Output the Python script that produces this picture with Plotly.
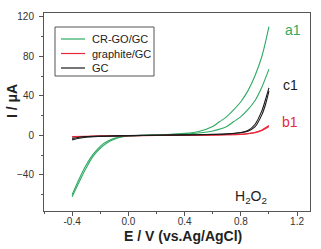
import plotly.graph_objects as go

# ---- data ----
green_fwd_E = [-0.40, -0.35, -0.30, -0.25, -0.20, -0.15, -0.10, -0.05, 0.00, 0.10, 0.20, 0.30, 0.40, 0.50, 0.60, 0.70, 0.75, 0.80, 0.85, 0.90, 0.95, 1.00]
green_fwd_I = [-60, -44, -30, -19, -11, -6, -3, -1.3, -0.4, 0.2, 0.5, 0.9, 1.5, 2.5, 4.5, 9, 14, 19, 26, 35, 49, 67]
green_rev_E = [1.00, 0.95, 0.90, 0.85, 0.80, 0.75, 0.70, 0.65, 0.60, 0.50, 0.40, 0.30, 0.20, 0.10, 0.00, -0.05, -0.10, -0.15, -0.20, -0.25, -0.30, -0.35, -0.40]
green_rev_I = [110, 80, 60, 45, 34, 26, 19, 14, 9, 4, 2, 1, 0.5, 0.1, -0.6, -1.7, -3.8, -7.5, -13, -21, -33, -47, -62]

red_fwd_E = [-0.40, -0.30, -0.20, 0.00, 0.20, 0.40, 0.60, 0.70, 0.80, 0.85, 0.90, 0.95, 1.00]
red_fwd_I = [-1.2, -0.8, -0.5, -0.2, 0.0, 0.2, 0.4, 0.6, 1.0, 1.6, 2.8, 5.0, 9.0]
red_rev_E = [1.00, 0.95, 0.90, 0.85, 0.80, 0.70, 0.60, 0.40, 0.20, 0.00, -0.20, -0.30, -0.40]
red_rev_I = [10.0, 5.5, 3.0, 1.8, 1.1, 0.6, 0.3, 0.1, -0.1, -0.4, -0.8, -1.1, -1.6]

black_fwd_E = [-0.40, -0.35, -0.30, -0.20, -0.10, 0.00, 0.20, 0.40, 0.60, 0.70, 0.80, 0.85, 0.90, 0.95, 0.975, 1.00]
black_fwd_I = [-3.0, -1.8, -1.2, -0.7, -0.4, -0.2, 0.2, 0.5, 0.9, 1.4, 2.6, 4.2, 8.5, 21, 31, 45]
black_rev_E = [1.00, 0.975, 0.95, 0.90, 0.85, 0.80, 0.70, 0.60, 0.40, 0.20, 0.00, -0.10, -0.20, -0.30, -0.35, -0.40]
black_rev_I = [48, 36, 25, 11, 5, 3, 1.6, 1.0, 0.5, 0.1, -0.4, -0.7, -1.1, -1.8, -2.8, -4.5]

series_names = ["CR-GO/GC", "graphite/GC", "GC"]
series_colors = ["#2eaa62", "#e8283a", "#1a1a1a"]
curve_labels = ["a1", "b1", "c1"]

x_ticks = [-0.4, 0.0, 0.4, 0.8, 1.2]
y_ticks = [-40, 0, 40, 80, 120]

FONT = "Arial, Liberation Sans, sans-serif"

# plot area in pixels (for legend / title layout)
W, H = 321, 249
L, R, T, B = 44, 11, 13, 38
PW, PH = W - L - R, H - T - B


def px(xp):
    return (xp - L) / PW


def py(yp):
    return (H - B - yp) / PH


fig = go.Figure()
curves = [
    (green_fwd_E, green_fwd_I, green_rev_E, green_rev_I),
    (red_fwd_E, red_fwd_I, red_rev_E, red_rev_I),
    (black_fwd_E, black_fwd_I, black_rev_E, black_rev_I),
]
for (fe, fi, re_, ri), name, col in zip(curves, series_names, series_colors):
    fig.add_trace(go.Scatter(x=fe, y=fi, mode="lines", name=name, showlegend=False,
                             line=dict(color=col, width=1.1, shape="spline", smoothing=0.8)))
    fig.add_trace(go.Scatter(x=re_, y=ri, mode="lines", name=name, showlegend=False,
                             line=dict(color=col, width=1.1, shape="spline", smoothing=0.8)))

# legend drawn as layout shapes + text (box, sample lines, names)
fig.add_shape(type="rect", xref="paper", yref="paper",
              x0=px(55), x1=px(154), y0=py(76), y1=py(27),
              line=dict(color="#555", width=1), fillcolor="white", layer="above")
legend_rows = [39, 53.5, 68]
for yrow, name, col in zip(legend_rows, series_names, series_colors):
    fig.add_shape(type="line", xref="paper", yref="paper",
                  x0=px(61), x1=px(85), y0=py(yrow), y1=py(yrow),
                  line=dict(color=col, width=1.2), layer="above")
    fig.add_annotation(xref="paper", yref="paper", x=px(90), y=py(yrow),
                       xanchor="left", yanchor="middle", text=name, showarrow=False,
                       font=dict(size=11, color="#222", family=FONT))

label_pos = {"a1": (1.17, 107), "b1": (1.15, 14), "c1": (1.15, 51)}
for lab, col in zip(curve_labels, series_colors):
    x, y = label_pos[lab]
    fig.add_annotation(x=x, y=y, text=lab, showarrow=False,
                       font=dict(size=14, color=col, family=FONT))
fig.add_annotation(x=0.875, y=-62, text="H<sub>2</sub>O<sub>2</sub>", showarrow=False,
                   font=dict(size=14, color="#222", family=FONT))

# axis titles
fig.add_annotation(xref="paper", yref="paper", x=px(183), y=py(236),
                   xanchor="center", yanchor="middle", showarrow=False,
                   text="<b>E / V (vs.Ag/AgCl)</b>", font=dict(size=14, color="#222", family=FONT))
fig.add_annotation(xref="paper", yref="paper", x=px(12), y=py(101),
                   xanchor="center", yanchor="middle", showarrow=False, textangle=-90,
                   text="<b>I / μA</b>", font=dict(size=14, color="#222", family=FONT))

axis_common = dict(showline=True, linecolor="#555", linewidth=1, mirror=True,
                   ticks="outside", ticklen=4, tickcolor="#555", tickwidth=1,
                   showgrid=False, zeroline=False, automargin=False,
                   tickfont=dict(size=10, color="#333", family=FONT))

fig.update_xaxes(range=[-0.6, 1.292], tickvals=x_ticks,
                 ticktext=[f"{v:.1f}" for v in x_ticks], ticklabelstandoff=-3,
                 minor=dict(tickvals=[-0.6, -0.2, 0.2, 0.6, 1.0], ticks="outside", ticklen=2, tickcolor="#555"),
                 **axis_common)
fig.update_yaxes(range=[-76.4, 123.7], tickvals=y_ticks, ticklabelstandoff=3,
                 minor=dict(tickvals=[-60, -20, 20, 60, 100], ticks="outside", ticklen=2, tickcolor="#555"),
                 **axis_common)

fig.update_layout(
    width=W, height=H,
    margin=dict(l=L, r=R, t=T, b=B),
    paper_bgcolor="white", plot_bgcolor="white",
    font=dict(family=FONT, color="#222"),
    showlegend=False,
)

fig.write_html("out.html", config={"displayModeBar": False},
               post_script="document.body.style.margin='0';")
